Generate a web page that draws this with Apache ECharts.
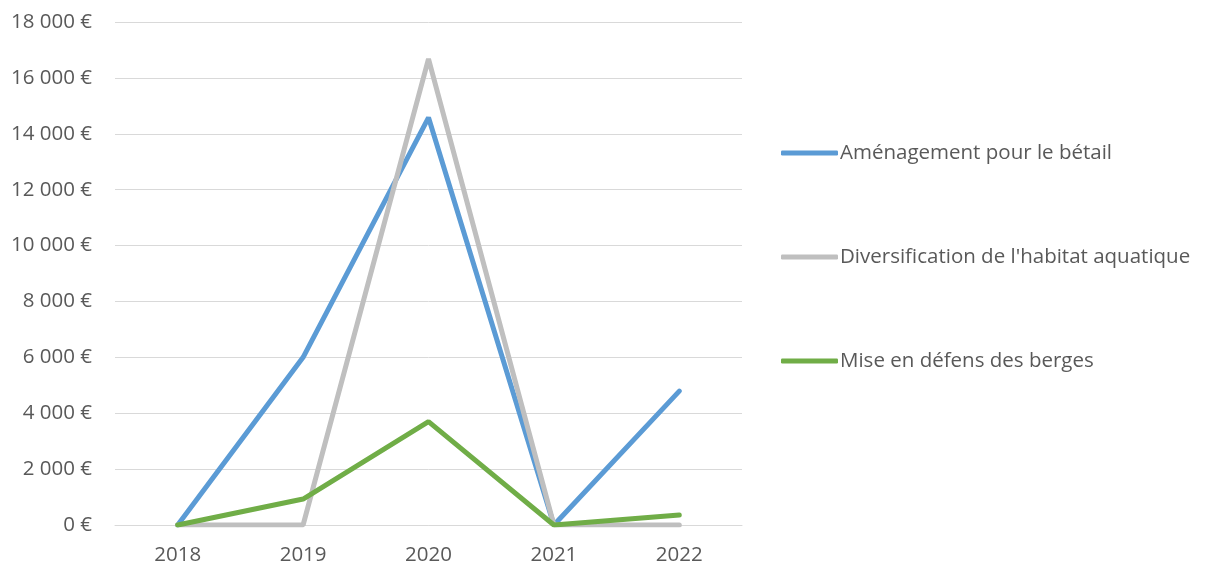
<!DOCTYPE html>
<html>
<head>
<meta charset="utf-8">
<script src="https://cdn.jsdelivr.net/npm/echarts@6/dist/echarts.min.js"></script>
<style>
  html, body { margin: 0; padding: 0; background: #fff; }
  #chart-box { width: 1209px; height: 566px; }
</style>
</head>
<body>
<div id="chart-box"></div>
<script>
const years = ["2018", "2019", "2020", "2021", "2022"];
const amenagement = [0, 6000, 14580, 0, 4790];
const diversification = [0, 0, 16680, 0, 0];
const miseEnDefens = [0, 930, 3700, 0, 360];

const names = [
  "Aménagement pour le bétail",
  "Diversification de l'habitat aquatique",
  "Mise en défens des berges",
];
const colors = ["#5B9BD5", "#BFBFBF", "#70AD47"];

function euro(v) {
  return String(v).replace(/\B(?=(\d{3})+(?!\d))/g, " ") + " €";
}

const chart = echarts.init(document.getElementById("chart-box"));
const font = "'Open Sans', sans-serif";

function line(name, data, color) {
  return {
    name: name,
    type: "line",
    data: data,
    symbol: "none",
    lineStyle: { color: color, width: 5, cap: "round" },
    itemStyle: { color: color },
  };
}

const option = {
  animation: false,
  grid: { left: 115, right: 467, top: 22, bottom: 40 },
  legend: {
    orient: "vertical",
    left: 776,
    top: 136,
    itemWidth: 57,
    itemHeight: 5,
    itemGap: 80,
    icon: "roundRect",
    textStyle: { fontFamily: font, fontSize: 20.5, color: "#595959", padding: [0, 0, 0, -3], lineHeight: 24 },
    data: names,
  },
  xAxis: {
    type: "category",
    data: years,
    boundaryGap: true,
    axisLine: { lineStyle: { color: "#D9D9D9", width: 1 } },
    axisTick: { show: false },
    axisLabel: { color: "#595959", fontFamily: font, fontSize: 20.5, margin: 20 },
  },
  yAxis: {
    type: "value",
    min: 0,
    max: 18000,
    interval: 2000,
    axisLine: { show: false },
    axisTick: { show: false },
    splitLine: { lineStyle: { color: "#D9D9D9", width: 1 } },
    axisLabel: { color: "#595959", fontFamily: font, fontSize: 20.5, margin: 23, formatter: euro },
  },
  series: [
    line(names[0], amenagement, colors[0]),
    line(names[1], diversification, colors[1]),
    line(names[2], miseEnDefens, colors[2]),
  ],
};

chart.setOption(option);
</script>
</body>
</html>
